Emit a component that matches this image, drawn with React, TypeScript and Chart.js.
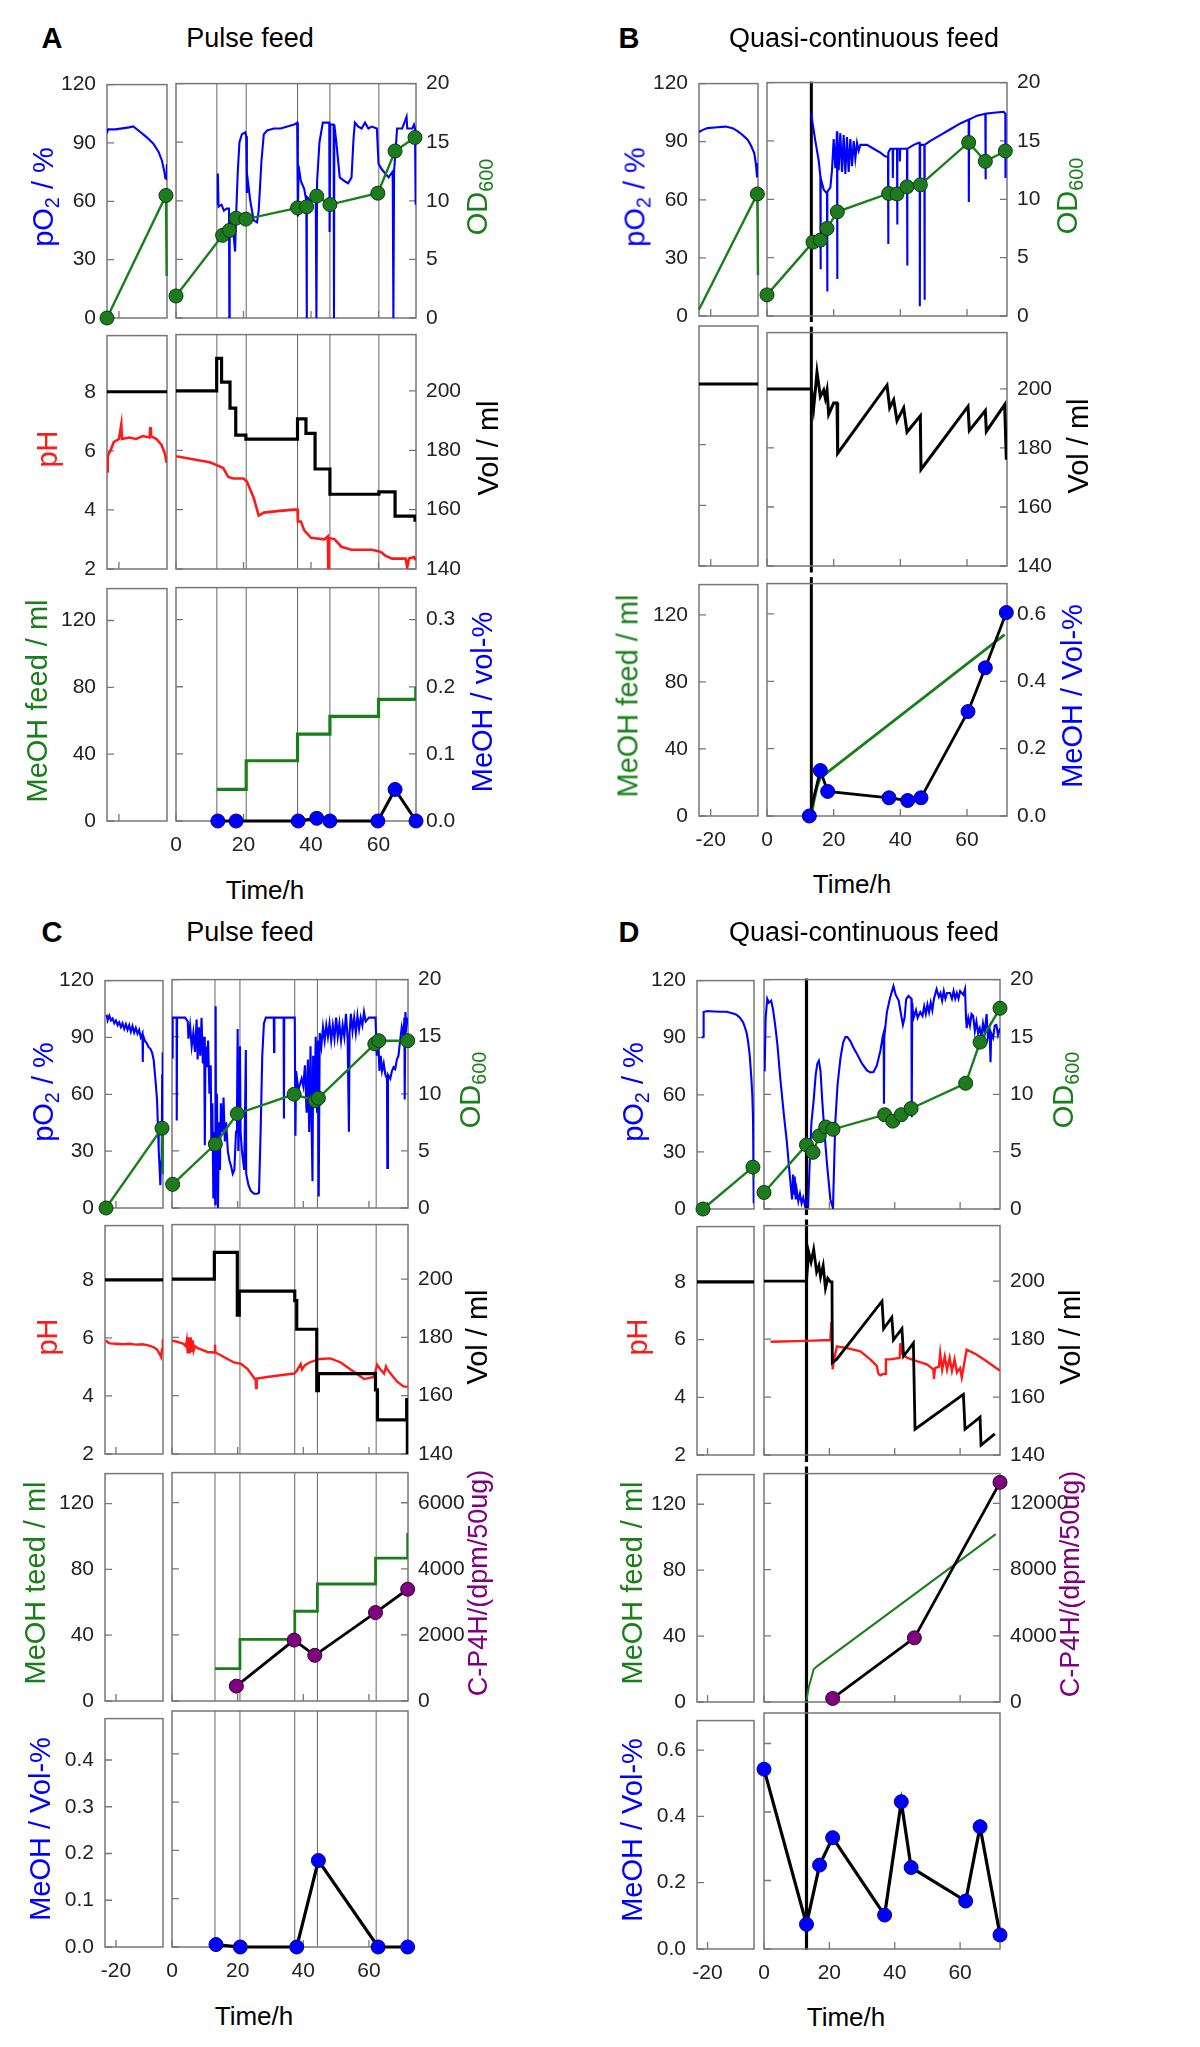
import { useEffect, useRef } from "react";
import { Chart, registerables } from "chart.js";
Chart.register(...registerables);

type P = [number, number][];

// ================= DATA (time in h, values) =================
// ---- Panel A : Pulse feed ----
const A_feedTimes = [12.1, 20.8, 36.0, 45.6, 60.1];
const A_pO2_pre: P = [[-23.5,95],[-23.2,97],[-21,97],[-19,97.5],[-17,98],[-15.8,98.5],[-14,96],[-11.9,93],[-9.9,89.6],[-8.4,85.5],[-7.4,81],[-6.7,75.5],[-6.4,72],[-6.1,71.5],[-5.95,79]];
const A_OD_pre: P = [[-23.5,0],[-6.2,10.5],[-6.0,3.6]];
const A_pO2: P = [[12.3,58],[12.4,74],[12.6,57],[13.5,58],[14.2,55],[15.0,56],[15.7,56],[15.8,0],[15.9,52],[16.5,50],[17.2,40],[17.5,34],[17.8,52],[18.3,75],[18.8,90],[19.5,94],[20.5,95],[20.8,93],[21.0,64],[21.3,70],[22.0,60],[23.0,50],[24.0,49],[24.5,55],[25.3,80],[26.0,94],[27.0,96],[29.0,97],[31.0,97],[33.0,98],[35.0,99],[35.9,100],[36.1,52],[36.3,78],[37.0,70],[38.0,66],[38.6,60],[38.7,0],[38.8,62],[40.0,60],[41.4,62],[41.6,0],[41.8,70],[42.5,90],[43.5,100],[45.4,100],[45.5,44],[45.7,99],[46.7,99],[46.8,0],[46.9,99],[47.5,90],[48.5,72],[50.0,70],[51.0,69],[52.0,72],[52.6,92],[53.0,100],[54.0,98],[55.0,97],[56.0,100],[57.0,97],[58.0,98],[59.5,97],[60.0,79],[61.0,76],[62.0,74],[63.0,72],[64.2,75],[64.4,0],[64.6,75],[65.5,97],[67.0,97],[68.3,103],[68.5,97],[70.0,97],[70.5,99],[70.8,97],[71.0,58]];
const A_OD: P = [[0,1.88],[13.8,7.05],[15.8,7.47],[17.8,8.52],[20.7,8.44],[36.0,9.4],[38.7,9.49],[41.7,10.4],[45.6,9.68],[59.8,10.65],[64.9,14.25],[70.8,15.4]];
const A_pH_pre: P = [[-23.5,5.3],[-23.3,5.8],[-23,5.9],[-22.5,6.0],[-21.5,6.3],[-20,6.4],[-19.3,6.9],[-19.1,6.4],[-17,6.45],[-15,6.4],[-13,6.5],[-11,6.45],[-10.8,6.8],[-10.6,6.5],[-9,6.4],[-7.5,6.2],[-6.5,5.9],[-6,5.6]];
const A_vol_pre: P = [[-23.5,200],[-5.9,200]];
const A_pH: P = [[0,5.8],[5,5.7],[10,5.6],[12.1,5.5],[14,5.4],[15.5,5.1],[17,5.05],[20,5.05],[21,4.95],[23,4.4],[24.5,3.8],[26,3.9],[30,3.95],[35,4.0],[36,4.0],[36.1,3.6],[37,3.6],[38,3.3],[40,3.05],[44,3.0],[45.0,3.1],[45.1,2.0],[45.3,3.05],[47,3.0],[49,2.75],[52,2.65],[58,2.65],[60,2.6],[61,2.55],[62,2.45],[64,2.35],[68,2.35],[68.5,2.05],[69,2.35],[70.5,2.4],[71,2.3]];
const A_vol: P = [[0,200],[12.05,211],[13.5,203],[16,194.2],[17.7,185.1],[20.7,183.8],[36,190.6],[38.5,185.7],[41.2,173.7],[45.6,165.2],[60.1,166],[64.9,157.8],[70.8,156.5],[71.1,156.5]];
const A_feed: P = [[12.1,18.9],[20.8,35.9],[36.0,51.8],[45.6,62.4],[60.0,72.5],[71.0,72.5],[71.05,79.8]];
const A_meoh: P = [[12.4,0],[17.8,0],[36.2,0],[41.7,0.004],[45.6,0],[59.8,0],[64.9,0.047],[71.1,0]];

// ---- Panel B : Quasi-continuous feed ----
const B_feedStart = [13.3];
const B_pO2_pre: P = [[-23.5,95],[-22.5,96],[-21,97],[-18,97.5],[-15.5,97.8],[-13.5,97],[-12,95.5],[-10.5,93.5],[-9,91],[-8,88],[-7,84],[-6.5,78],[-6.2,72],[-6.0,72],[-5.9,79]];
const B_OD_pre: P = [[-23.5,0.56],[-6.1,10.5],[-5.9,3.5]];
const B_pO2: P = [[13.3,104],[13.6,100],[14.5,90],[15.5,80],[16.0,72],[16.05,24],[16.15,71],[17.0,65],[18.0,63],[18.05,12.6],[18.15,64],[19.0,66],[19.5,75],[20.0,91],[20.5,76],[21.0,95],[21.05,19],[21.15,94],[21.5,75],[22.0,94],[22.5,74],[23.0,93],[23.5,73],[24.0,92],[24.5,74],[25.0,91],[25.5,77],[26.0,90],[26.5,81],[27.0,89],[27.5,85],[28.0,88],[30.0,88],[32.0,86],[34.0,84],[35.5,82],[36.3,82],[36.35,37],[36.45,84],[37.0,86],[37.7,86],[37.75,71],[37.85,86],[39.0,86],[39.05,47],[39.15,86],[39.8,86],[39.85,79.5],[39.95,86],[42.0,86],[42.05,26],[42.15,86],[44.0,88],[45.5,89],[45.8,89],[45.85,5],[45.95,88],[47.0,88],[47.2,88],[47.25,8.4],[47.35,88],[49.0,90],[52.0,93],[55.0,96],[58.0,99],[60.5,101],[60.55,58.6],[60.65,101],[63.0,103],[65.5,104],[65.55,70.3],[65.65,104],[68.0,104.5],[71.0,105],[71.5,104],[71.55,71]];
const B_OD: P = [[0,1.81],[13.8,6.33],[16,6.5],[18,7.5],[21.1,8.93],[36.5,10.5],[39,10.46],[42,11.07],[46,11.24],[60.5,14.87],[65.5,13.25],[71.5,14.14]];
const B_vol_pre: P = [[-23.5,200],[-5.9,200]];
const B_vol: P = [[0,200],[13.3,200],[14.0,193.6],[15.0,205.7],[16.0,197.4],[17.0,199.6],[17.5,196.9],[18.0,199.6],[18.5,191.4],[20.0,195.2],[21.0,195.2],[21.2,178.2],[36.0,201.3],[36.8,193.6],[38.0,196.3],[39.0,189.2],[41.0,193.6],[42.0,185.4],[46.0,190.9],[46.2,172.7],[60.3,194.1],[60.7,185.9],[65.5,192.7],[65.8,185.6],[71.3,194.7],[71.8,176]];
const B_feed: P = [[13.3,0],[14,8],[15,17],[16,22.7],[71.3,107.7]];
const B_meoh: P = [[12.7,0],[16,0.135],[18.2,0.073],[36.6,0.054],[42.2,0.046],[46.2,0.054],[60.3,0.31],[65.5,0.44],[71.8,0.604]];

// ---- Panel C : Pulse feed ----
const C_feedTimes = [13.1, 20.7, 37.4, 44.3, 62.2];
const C_pO2_pre: P = [[-22.8,102],[-22.5,99],[-22,101.5],[-21.5,99],[-21,100],[-20.5,97.5],[-20,99],[-19.5,96.5],[-19,98],[-18.5,95.5],[-18,97.5],[-17.5,94.5],[-17,97],[-16.5,94],[-16,96.5],[-15.5,93],[-15,96],[-14.5,92.5],[-14,95],[-13.5,92],[-13,94],[-12.5,90],[-12,92],[-11.9,77],[-11.8,91],[-11.2,88],[-10.7,87],[-10.2,85],[-9.6,84],[-9.1,82],[-8.6,78],[-8.3,72],[-8.0,66],[-7.6,57],[-7.3,42],[-7.1,31],[-6.8,20],[-6.6,12],[-6.4,25],[-6.2,22],[-6.05,70],[-5.9,82]];
const C_OD_pre: P = [[-23.0,0],[-6.1,7.02],[-5.85,2.97]];
const C_pO2: P = [[0.1,79],[0.2,100],[1.4,100],[1.45,46],[1.55,100],[3.0,100],[4.0,100],[4.8,98],[5.0,89],[5.5,96],[6.0,85],[6.5,92],[7.0,82],[7.5,99],[7.8,78],[8.2,95],[8.6,80],[9.0,100],[9.4,76],[9.8,90],[10.0,33],[10.2,85],[10.6,74],[11.0,88],[11.4,60],[11.8,75],[12.0,30],[12.3,55],[12.6,5],[12.9,40],[13.2,2],[13.3,106],[13.45,10],[13.7,60],[14.0,0],[14.3,45],[14.6,20],[14.9,55],[15.3,40],[15.7,58],[16.1,35],[16.5,45],[17.0,30],[17.5,25],[18.0,22],[18.5,18],[19.0,20],[19.5,40],[19.8,50],[20.0,94],[20.2,30],[20.5,50],[20.7,85],[20.9,40],[21.3,30],[22.0,20],[22.5,83],[22.6,18],[23.3,12],[24.0,9],[25.0,7.5],[26.0,7.5],[26.5,8],[27.0,40],[27.5,80],[28.0,97],[28.6,100],[31.0,100],[31.1,82],[31.2,100],[34.0,100],[34.1,47],[34.2,100],[37.4,100],[37.6,38],[37.8,72],[38.5,62],[39.5,68],[40.0,64],[40.5,75],[41.0,50],[41.4,78],[41.8,40],[42.2,85],[42.6,36],[42.8,14],[43.0,80],[43.4,60],[43.8,90],[44.2,50],[44.5,88],[44.7,6],[45.0,92],[45.5,85],[46.0,95],[46.5,88],[47.0,96],[47.5,90],[48.0,97],[48.5,88],[49.0,96],[49.5,89],[50.0,100],[50.5,90],[51.0,97],[51.5,88],[52.0,96],[52.5,90],[53.0,102],[53.5,89],[53.9,40],[54.1,92],[54.5,102],[55.0,93],[55.5,100],[56.0,92],[56.5,101],[57.0,94],[57.5,100],[58.0,96],[58.5,103],[59.0,98],[60.0,100],[62.0,100],[62.4,80],[62.8,90],[63.2,72],[63.6,80],[64.0,72],[64.5,76],[65.0,70],[65.5,68],[65.6,21],[65.8,70],[66.5,68],[67.0,72],[67.5,74],[68.0,73],[68.5,78],[69.0,80],[69.5,88],[70.0,95],[70.5,90],[70.8,100],[70.9,57],[71.1,103],[71.4,95],[71.8,100]];
const C_OD: P = [[0.2,2.07],[13.2,5.6],[19.9,8.26],[37.2,9.96],[43.6,9.39],[44.6,9.62],[61.8,14.37],[63.0,14.65],[71.8,14.65]];
const C_pH_pre: P = [[-23.0,5.92],[-22.5,5.85],[-21.8,5.81],[-20,5.8],[-18,5.78],[-16,5.8],[-14,5.77],[-12,5.78],[-10.6,5.75],[-9.5,5.72],[-8.6,5.68],[-7.6,5.6],[-7.1,5.5],[-6.6,5.4],[-6.4,5.35],[-6.1,5.6],[-5.85,5.95]];
const C_vol_pre: P = [[-23.3,200],[-5.8,200]];
const C_pH: P = [[0,5.89],[1.5,5.85],[2.7,5.81],[3.5,5.78],[4.2,5.7],[4.5,5.9],[4.8,5.45],[5.1,6.0],[5.4,5.45],[5.7,6.0],[6.0,5.5],[6.3,5.9],[6.6,5.55],[7.0,5.7],[8.0,5.62],[8.8,5.59],[10.8,5.5],[12.9,5.48],[13.1,5.75],[13.2,5.48],[15,5.38],[16.9,5.26],[18.9,5.14],[21,5.09],[23,4.92],[25.5,4.53],[25.6,4.26],[25.8,4.59],[29,4.64],[33,4.7],[37.2,4.76],[38,4.85],[39.2,5.09],[39.6,4.9],[40.5,5.05],[41.9,5.14],[45,5.26],[48.3,5.28],[51.4,5.14],[55.5,4.81],[58.5,4.57],[61.5,4.64],[62.5,5.06],[63.5,4.9],[64.6,4.76],[65.2,5.0],[65.6,4.9],[67,4.7],[68.6,4.48],[70.6,4.31],[71.8,4.31]];
const C_vol: P = [[0,200],[12.9,209.2],[19.9,187.6],[20.5,195.9],[37.4,192.6],[38.0,182.8],[44.1,161.7],[44.6,167.6],[62.0,162.0],[62.6,151.7],[71.5,158.7],[71.7,140]];
const C_feed: P = [[13.1,19.6],[20.7,37.3],[37.4,54.3],[44.3,70.8],[62.0,86.5],[71.7,86.5],[71.8,101.6]];
const C_cp4h: P = [[19.6,450],[37.2,1843],[43.5,1382],[62.0,2676],[71.8,3382]];
const C_meoh: P = [[13.4,0.005],[20.8,0],[38.0,0],[44.6,0.179],[62.8,0],[71.8,0]];

// ---- Panel D : Quasi-continuous feed ----
const D_feedStart = [13.0];
const D_pO2_pre: P = [[-21.7,90],[-21.3,90.5],[-21.2,103.5],[-20,104],[-18,103.8],[-16,103.6],[-14.1,103.6],[-12.1,102.7],[-11,102],[-10,100.5],[-9,98],[-8,93],[-7.5,88],[-7.0,81],[-6.5,69],[-6.2,60],[-5.97,48],[-5.8,10],[-5.72,3]];
const D_OD_pre: P = [[-21.4,0],[-6.0,3.67],[-5.7,2.77]];
const D_pO2: P = [[0.2,72],[0.5,100],[1.0,110],[1.5,108],[2.2,109],[2.8,104],[3.5,95],[4.1,86],[5.0,68],[6.1,49],[7.0,35],[7.6,23],[8.3,10],[8.6,5],[8.9,18],[9.2,8],[9.4,17],[9.7,5],[10.0,10],[10.5,4],[11.0,8],[11.5,3],[12.0,6],[12.5,2],[13.0,4],[13.5,2],[14.0,25],[14.5,45],[15.2,57],[15.8,70],[16.3,76],[16.8,77.6],[17.3,72],[17.8,57],[18.5,40],[19.3,23],[20.3,5],[21.1,0.5],[21.8,45],[22.5,65],[23.4,79],[24.2,87],[24.9,90],[25.5,90],[26.4,87.8],[27.5,84],[28.5,81],[30.0,76],[31.5,72.5],[32.5,71.5],[33.5,71.7],[34.5,75],[35.6,82.7],[36.3,90],[36.6,92],[36.7,55],[36.8,90],[37.6,103],[38.5,110],[39.6,116.6],[40.3,112],[41.2,109],[42.0,101],[42.5,96.3],[43.0,100],[43.5,109.8],[44.2,111.5],[45.1,110],[45.2,48],[45.35,108],[45.7,99.7],[46.5,104],[47.0,100],[47.8,103],[48.5,101],[49.0,106],[49.5,102],[50.0,107],[50.5,103],[51.0,108],[51.5,104],[52.0,110],[52.8,115],[53.5,111],[54.0,113],[54.5,109],[55.0,114],[55.5,110],[56.0,113],[56.9,113],[57.5,110],[58.0,114],[58.5,110],[59.0,113],[59.5,110],[60.0,114],[61.0,112],[61.5,115],[61.8,100],[62.0,94.6],[62.5,100],[63.0,96],[63.5,102],[64.0,101],[64.5,93],[65.0,98],[65.5,92],[66.0,94.6],[66.5,90],[67.0,97],[67.5,92],[68.1,102],[68.5,90],[69.0,94],[69.3,76.8],[69.5,92],[70.1,89.5],[70.6,96],[71.1,96.3],[71.6,91],[72.2,94.6]];
const D_OD: P = [[0,1.44],[13.0,5.59],[15.0,4.94],[16.9,6.38],[18.9,7.15],[21.1,6.95],[36.9,8.22],[39.4,7.66],[42.0,8.22],[45.0,8.76],[61.7,10.96],[66.1,14.55],[72.2,17.5]];
const D_vol_pre: P = [[-23.25,200],[-5.67,200]];
const D_vol: P = [[0,200],[13.0,200],[13.2,203.2],[13.7,209.9],[14.4,206.6],[15.2,211],[16.1,203.2],[16.8,205.4],[17.3,201.5],[18.1,205.4],[18.8,197.6],[19.5,201],[20.3,199.8],[20.8,199.8],[20.9,171.9],[22.2,173],[36.1,193.1],[36.6,183.6],[39.1,187.5],[39.6,179.7],[42.2,183.6],[42.7,174.1],[45.7,178.6],[46.2,148.9],[61.0,160.9],[61.5,148.9],[66.1,153.1],[66.4,143.4],[70.6,147.3]];
const D_pH: P = [[2.0,5.91],[5,5.92],[10,5.93],[15,5.95],[20.3,5.97],[20.6,6.59],[20.8,5.9],[21.0,4.96],[21.3,5.2],[22.3,5.75],[25.4,5.69],[29.5,5.58],[32.5,5.3],[34.5,5.08],[35.0,4.8],[35.6,4.75],[36.5,4.8],[37.1,4.8],[37.3,5.3],[38.6,5.3],[41.5,5.35],[41.7,5.86],[42.0,5.52],[43.7,5.36],[46.7,5.24],[49.8,5.13],[51.8,4.96],[52.0,4.63],[52.3,5.0],[53.5,5.05],[53.9,5.52],[54.5,4.95],[55.3,5.4],[56.0,4.95],[56.8,5.35],[57.5,4.9],[58.3,5.3],[59.0,4.85],[60.0,5.0],[60.5,4.68],[62.0,5.64],[65.0,5.47],[68.1,5.24],[72.2,4.91]];
const D_feed: P = [[13.0,1.2],[13.7,9],[15.2,19.8],[16.3,21.7],[70.9,101.4]];
const D_cp4h: P = [[21.0,215],[46.0,3876],[72.2,13273]];
const D_meoh: P = [[0,0.525],[13.0,0.072],[17.0,0.245],[21.0,0.325],[36.9,0.099],[42.0,0.43],[45.0,0.238],[61.7,0.14],[66.1,0.357],[72.2,0.041]];

// ---- tick values ----
const pO2Ticks = [0, 30, 60, 90, 120];
const odTicks = [0, 5, 10, 15, 20];
const pHTicks = [2, 4, 6, 8];
const volTicks = [140, 160, 180, 200];
const feedTicks = [0, 40, 80, 120];
const volPctTicksA = [0, 0.1, 0.2, 0.3];
const volPctTicksB = [0, 0.2, 0.4, 0.6];
const volPctTicksC = [0, 0.1, 0.2, 0.3, 0.4];
const cp4hTicksC = [0, 2000, 4000, 6000];
const cp4hTicksD = [0, 4000, 8000, 12000];
const timeTicksPre = [-20];
const timeTicksMain = [0, 20, 40, 60];

// ================= STYLE / LAYOUT =================
const FONT = "'Liberation Sans', Arial, Helvetica, sans-serif";
const ML = 80, MR = 80, MT = 16, MB = 46;
const BLUE = "#0000ff", GREEN = "#1a7f1a", GREEN_M = "#1e7a1e", GREEN_E = "#0b3a0b";
const RED = "#ff1a1a", PURPLE = "#800080", BORDER = "#777777", TICK = "#222";
const TFS = 21;
const R = 7;

type AxisSpec = { min: number; max: number; ticks: number[]; labels: boolean; marks: boolean; dec: number };
type SeriesSpec = { data: P; axis: string; color: string; width: number; stepped?: boolean; radius?: number | number[]; fill?: string; edge?: string };

const ax = (min: number, max: number, ticks: number[], labels = true, marks = true, dec = 0): AxisSpec => ({ min, max, ticks, labels, marks, dec });
const line = (data: P, axis: string, color: string, width: number, stepped = false): SeriesSpec => ({ data, axis, color, width, stepped, radius: 0 });
const dots = (data: P, axis: string, lineColor: string, width: number, fill: string, edge: string, radius: number | number[] = R): SeriesSpec => ({ data, axis, color: lineColor, width, radius, fill, edge });

function panel(id: string, geo: any, axes: any[], sL: SeriesSpec[][], sR: SeriesSpec[][], vl: any, leftXLabel: boolean) {
  const out: any[] = [];
  const n = geo.rows.length;
  geo.rows.forEach((r: number[], i: number) => {
    const last = i === n - 1;
    const gapAbove = i > 0 ? r[0] - geo.rows[i - 1][1] : 0;
    const gapBelow = !last ? geo.rows[i + 1][0] - r[1] : 0;
    out.push({
      key: id + "L" + i, x0: geo.L[0], x1: geo.L[1], y0: r[0], y1: r[1], xmin: geo.xl[0], xmax: geo.xl[1],
      xTicks: timeTicksPre, xLabels: last && leftXLabel,
      left: { ...axes[i].left, marks: true }, right: { ...axes[i].right, labels: false, marks: false },
      series: sL[i], vlines: [], vColor: "#000", vWidth: 1, extTop: 0, extBot: 0,
    });
    out.push({
      key: id + "R" + i, x0: geo.R[0], x1: geo.R[1], y0: r[0], y1: r[1], xmin: geo.xr[0], xmax: geo.xr[1],
      xTicks: timeTicksMain, xLabels: last,
      left: { ...axes[i].left, labels: false, marks: true }, right: axes[i].right,
      series: sR[i], vlines: vl.times, vColor: vl.color, vWidth: vl.width,
      extTop: vl.extend ? gapAbove / 2 + 1 : 0, extBot: vl.extend ? gapBelow / 2 + 1 : 0,
    });
  });
  return out;
}

const geoA = { L: [107, 167], R: [176, 416], rows: [[77, 318], [328, 569], [581, 821]], xl: [-23.5, -5.9], xr: [0, 71.1] };
const geoB = { L: [699, 758], R: [767, 1007], rows: [[76, 316], [326, 566], [577, 816]], xl: [-23.5, -5.9], xr: [0, 72] };
const geoC = { L: [105, 163], R: [172, 408], rows: [[973, 1208], [1218, 1454], [1466, 1701], [1711, 1947]], xl: [-23.3, -5.8], xr: [0, 71.9] };
const geoD = { L: [697, 754], R: [764, 1000], rows: [[973, 1209], [1219, 1455], [1467, 1702], [1713, 1949]], xl: [-23.25, -5.67], xr: [0, 72.2] };

const row1 = { left: ax(0, 120, pO2Ticks), right: ax(0, 20, odTicks) };
const TW = 2.1; // pO2 trace width

const SPECS: any[] = [
  ...panel("A", geoA,
    [row1,
     { left: ax(2, 9.9, pHTicks), right: ax(140, 219, volTicks) },
     { left: ax(0, 139.1, feedTicks), right: ax(0, 0.3478, volPctTicksA, true, true, 1) }],
    [[dots(A_OD_pre, "y2", GREEN, 2.4, GREEN_M, GREEN_E, [R, R, 0]), line(A_pO2_pre, "y", BLUE, TW)],
     [line(A_vol_pre, "y2", "#000", 3.2), line(A_pH_pre, "y", RED, 2.6)],
     []],
    [[dots(A_OD, "y2", GREEN, 2.4, GREEN_M, GREEN_E), line(A_pO2, "y", BLUE, TW)],
     [line(A_vol, "y2", "#000", 3.2, true), line(A_pH, "y", RED, 2.6)],
     [dots(A_meoh, "y2", "#000", 3, BLUE, "#00008b"), line(A_feed, "y", GREEN, 3.2, true)]],
    { times: A_feedTimes, color: "#666", width: 1, extend: false }, false),
  ...panel("B", geoB,
    [row1,
     { left: ax(140, 219.1, volTicks, false), right: ax(140, 219.1, volTicks) },
     { left: ax(0, 138, feedTicks), right: ax(0, 0.69, volPctTicksB, true, true, 1) }],
    [[dots(B_OD_pre, "y2", GREEN, 2.4, GREEN_M, GREEN_E, [0, R, 0]), line(B_pO2_pre, "y", BLUE, TW)],
     [line(B_vol_pre, "y2", "#000", 3)],
     []],
    [[dots(B_OD, "y2", GREEN, 2.4, GREEN_M, GREEN_E), line(B_pO2, "y", BLUE, TW)],
     [line(B_vol, "y2", "#000", 3)],
     [dots(B_meoh, "y2", "#000", 2.8, BLUE, "#00008b"), line(B_feed, "y", GREEN, 2.8)]],
    { times: B_feedStart, color: "#000", width: 3, extend: true }, true),
  ...panel("C", geoC,
    [row1,
     { left: ax(2, 9.87, pHTicks), right: ax(140, 218.7, volTicks) },
     { left: ax(0, 138.2, feedTicks), right: ax(0, 6912, cp4hTicksC) },
     { left: ax(0, 0.4886, volPctTicksC, true, true, 1), right: ax(0, 0.4886, [], false, false) }],
    [[dots(C_OD_pre, "y2", GREEN, 2.4, GREEN_M, GREEN_E, [R, R, 0]), line(C_pO2_pre, "y", BLUE, TW)],
     [line(C_vol_pre, "y2", "#000", 3.2), line(C_pH_pre, "y", RED, 2.4)],
     [], []],
    [[dots(C_OD, "y2", GREEN, 2.4, GREEN_M, GREEN_E), line(C_pO2, "y", BLUE, TW)],
     [line(C_vol, "y2", "#000", 3.2, true), line(C_pH, "y", RED, 2.4)],
     [dots(C_cp4h, "y2", "#000", 2.8, PURPLE, "#2a002a"), line(C_feed, "y", GREEN, 2.8, true)],
     [dots(C_meoh, "y", "#000", 3.2, BLUE, "#00008b")]],
    { times: C_feedTimes, color: "#666", width: 1, extend: false }, true),
  ...panel("D", geoD,
    [row1,
     { left: ax(2, 9.92, pHTicks), right: ax(140, 219.2, volTicks) },
     { left: ax(0, 138, feedTicks), right: ax(0, 13800, cp4hTicksD) },
     { left: ax(0, 0.689, volPctTicksB, true, true, 1), right: ax(0, 0.689, [], false, false) }],
    [[dots(D_OD_pre, "y2", GREEN, 2.4, GREEN_M, GREEN_E, [R, R, 0]), line(D_pO2_pre, "y", BLUE, TW)],
     [line(D_vol_pre, "y2", "#000", 3.2)],
     [], []],
    [[dots(D_OD, "y2", GREEN, 2.4, GREEN_M, GREEN_E), line(D_pO2, "y", BLUE, TW)],
     [line(D_vol, "y2", "#000", 2.8), line(D_pH, "y", RED, 2.4)],
     [dots(D_cp4h, "y2", "#000", 2.8, PURPLE, "#2a002a"), line(D_feed, "y", GREEN, 2)],
     [dots(D_meoh, "y", "#000", 3.2, BLUE, "#00008b")]],
    { times: D_feedStart, color: "#000", width: 3.2, extend: true }, true),
];

const decor = (s: any) => ({
  id: "decor",
  beforeDatasetsDraw(chart: any) {
    const { ctx, chartArea: a, scales } = chart;
    const xs = scales.x, yl = scales.y, yr = scales.y2;
    ctx.save();
    for (const t of s.vlines) {
      const px = xs.getPixelForValue(t);
      ctx.strokeStyle = s.vColor;
      ctx.lineWidth = s.vWidth;
      ctx.beginPath();
      ctx.moveTo(px, a.top - s.extTop);
      ctx.lineTo(px, a.bottom + s.extBot);
      ctx.stroke();
    }
    ctx.strokeStyle = BORDER;
    ctx.lineWidth = 1.5;
    ctx.strokeRect(a.left, a.top, a.right - a.left, a.bottom - a.top);
    ctx.lineWidth = 1.3;
    ctx.beginPath();
    if (s.left.marks) for (const v of s.left.ticks) { const py = yl.getPixelForValue(v); ctx.moveTo(a.left, py); ctx.lineTo(a.left + 7, py); }
    if (s.right.marks) for (const v of s.right.ticks) { const py = yr.getPixelForValue(v); ctx.moveTo(a.right - 7, py); ctx.lineTo(a.right, py); }
    for (const v of s.xTicks) { const px = xs.getPixelForValue(v); ctx.moveTo(px, a.bottom); ctx.lineTo(px, a.bottom - 7); }
    ctx.stroke();
    ctx.restore();
  },
});

function yScale(spec: AxisSpec, position: string, width: number, pad: number) {
  return {
    type: "linear", position, min: spec.min, max: spec.max, display: true,
    grid: { display: false, drawTicks: false }, border: { display: false },
    ticks: {
      display: spec.labels, autoSkip: false, padding: pad, color: TICK,
      font: { family: FONT, size: TFS },
      callback: (v: number) => (spec.dec ? Number(v).toFixed(spec.dec) : String(v)),
    },
    afterBuildTicks: (a: any) => { a.ticks = spec.ticks.map((value) => ({ value })); },
    afterFit: (a: any) => { a.width = width; },
  };
}

function BoxChart({ spec }: { spec: any }) {
  const ref = useRef<HTMLCanvasElement>(null);
  const W = spec.x1 - spec.x0 + ML + MR;
  const H = spec.y1 - spec.y0 + MT + MB;
  useEffect(() => {
    const datasets = spec.series.map((s: SeriesSpec) => {
      const d: any = {
        data: s.data.map(([x, y]) => ({ x, y })),
        yAxisID: s.axis,
        borderColor: s.color,
        borderWidth: s.width,
        pointRadius: s.radius ?? 0,
        pointHoverRadius: 0,
        pointBackgroundColor: s.fill,
        pointBorderColor: s.edge,
        pointBorderWidth: 1,
        stepped: s.stepped ? "before" : false,
        tension: 0,
        fill: false,
      };
      if (s.fill) d.clip = false;
      return d;
    });
    const chart = new Chart(ref.current as HTMLCanvasElement, {
      type: "line",
      data: { datasets },
      options: {
        animation: false,
        responsive: false,
        events: [],
        layout: { padding: { top: MT, left: 0, right: 0, bottom: 0 } },
        plugins: { legend: { display: false }, tooltip: { enabled: false } },
        scales: {
          x: {
            type: "linear", position: "bottom", min: spec.xmin, max: spec.xmax,
            grid: { display: false, drawTicks: false }, border: { display: false },
            ticks: { display: spec.xLabels, autoSkip: false, maxRotation: 0, minRotation: 0, padding: 12, color: TICK, font: { family: FONT, size: TFS }, callback: (v: number) => String(v) },
            afterBuildTicks: (a: any) => { a.ticks = spec.xTicks.map((value: number) => ({ value })); },
            afterFit: (a: any) => { a.height = MB; },
          },
          y: yScale(spec.left, "left", ML, 11),
          y2: yScale(spec.right, "right", MR, 10),
        },
      } as any,
      plugins: [decor(spec)],
    });
    return () => chart.destroy();
  }, [spec]);
  return (
    <canvas ref={ref} width={W} height={H}
      style={{ position: "absolute", left: spec.x0 - ML, top: spec.y0 - MT, width: W, height: H }} />
  );
}

function Txt({ x, y, size, color = "#000", rot = false, bold = false, children }: any) {
  return (
    <div style={{
      position: "absolute", left: x, top: y,
      transform: `translate(-50%,-50%)${rot ? " rotate(-90deg)" : ""}`,
      fontFamily: FONT, fontSize: size, color, fontWeight: bold ? 700 : 400,
      lineHeight: 1, whiteSpace: "nowrap",
    }}>{children}</div>
  );
}

const Sub = ({ children }: any) => (
  <span style={{ fontSize: "0.68em", position: "relative", top: "0.3em" }}>{children}</span>
);

const AX = 29;

export default function App() {
  return (
    <div style={{ position: "absolute", left: 0, top: 0, width: 1200, height: 2047, background: "#fff", overflow: "hidden" }}>
      {SPECS.map((s) => <BoxChart key={s.key} spec={s} />)}

      <Txt x={52} y={38} size={29} bold>A</Txt>
      <Txt x={250} y={38} size={27}>Pulse feed</Txt>
      <Txt x={629} y={38} size={29} bold>B</Txt>
      <Txt x={864} y={38} size={27}>Quasi-continuous feed</Txt>
      <Txt x={52} y={932} size={29} bold>C</Txt>
      <Txt x={250} y={932} size={27}>Pulse feed</Txt>
      <Txt x={629} y={932} size={29} bold>D</Txt>
      <Txt x={864} y={932} size={27}>Quasi-continuous feed</Txt>

      <Txt x={265} y={890} size={26}>Time/h</Txt>
      <Txt x={852} y={884} size={26}>Time/h</Txt>
      <Txt x={254} y={2016} size={26}>Time/h</Txt>
      <Txt x={846} y={2017} size={26}>Time/h</Txt>

      {/* Panel A axis titles */}
      <Txt x={43} y={197} size={AX} color={BLUE} rot>pO<Sub>2</Sub> / %</Txt>
      <Txt x={477} y={197} size={AX} color={GREEN} rot>OD<Sub>600</Sub></Txt>
      <Txt x={47} y={449} size={AX} color={RED} rot>pH</Txt>
      <Txt x={488} y={448} size={AX} rot>Vol / ml</Txt>
      <Txt x={37} y={701} size={AX} color={GREEN} rot>MeOH feed / ml</Txt>
      <Txt x={482} y={702} size={AX} color={BLUE} rot>MeOH / vol-%</Txt>

      {/* Panel B axis titles */}
      <Txt x={635} y={197} size={AX} color={BLUE} rot>pO<Sub>2</Sub> / %</Txt>
      <Txt x={1067} y={196} size={AX} color={GREEN} rot>OD<Sub>600</Sub></Txt>
      <Txt x={1078} y={446} size={AX} rot>Vol / ml</Txt>
      <Txt x={628} y={696} size={AX} color={GREEN} rot>MeOH feed / ml</Txt>
      <Txt x={1072} y={696} size={AX} color={BLUE} rot>MeOH / Vol-%</Txt>

      {/* Panel C axis titles */}
      <Txt x={43} y={1092} size={AX} color={BLUE} rot>pO<Sub>2</Sub> / %</Txt>
      <Txt x={470} y={1090} size={AX} color={GREEN} rot>OD<Sub>600</Sub></Txt>
      <Txt x={47} y={1337} size={AX} color={RED} rot>pH</Txt>
      <Txt x={477} y={1337} size={AX} rot>Vol / ml</Txt>
      <Txt x={35} y={1583} size={AX} color={GREEN} rot>MeOH teed / ml</Txt>
      <Txt x={478} y={1583} size={27} color={PURPLE} rot>C-P4H/(dpm/50ug)</Txt>
      <Txt x={40} y={1829} size={AX} color={BLUE} rot>MeOH / Vol-%</Txt>

      {/* Panel D axis titles */}
      <Txt x={633} y={1092} size={AX} color={BLUE} rot>pO<Sub>2</Sub> / %</Txt>
      <Txt x={1063} y={1090} size={AX} color={GREEN} rot>OD<Sub>600</Sub></Txt>
      <Txt x={637} y={1337} size={AX} color={RED} rot>pH</Txt>
      <Txt x={1070} y={1337} size={AX} rot>Vol / ml</Txt>
      <Txt x={632} y={1583} size={AX} color={GREEN} rot>MeOH feed / ml</Txt>
      <Txt x={1070} y={1584} size={27} color={PURPLE} rot>C-P4H/(dpm/50ug)</Txt>
      <Txt x={632} y={1830} size={AX} color={BLUE} rot>MeOH / Vol-%</Txt>
    </div>
  );
}
